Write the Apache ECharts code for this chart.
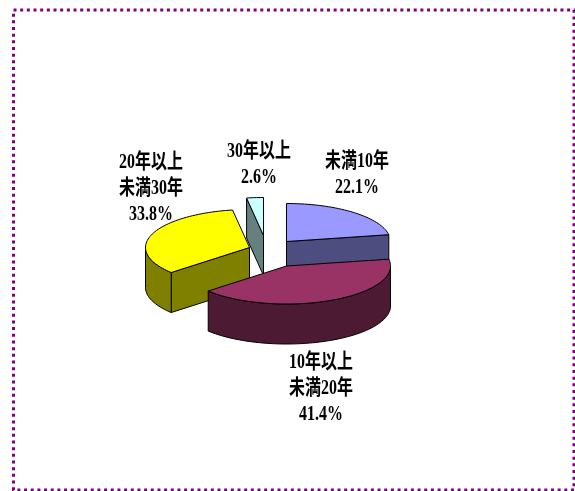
<!DOCTYPE html>
<html>
<head>
<meta charset="utf-8">
<style>html,body{margin:0;padding:0;background:#fff;overflow:hidden}#chart{width:575px;height:491px}</style>
<script src="https://cdn.jsdelivr.net/npm/echarts@6/dist/echarts.min.js"></script>
</head>
<body>
<div id="chart"></div>
<script>
// Share of each length-of-service band, clockwise from twelve o'clock
const categories = ['未満10年', '10年以上\n未満20年', '20年以上\n未満30年', '30年以上'];
const shares = [22.1, 41.4, 33.8, 2.6];

const topColors = ['#9999ff', '#993366', '#ffff00', '#ccffff'];
const wallColors = ['#4d4d80', '#4d1a33', '#808000', '#668080'];

// Pulled-apart slice centres and the anchor of each text block
const sliceCenters = [[286.5, 241.5], [286.5, 266], [249.5, 247.5], [263.5, 235.5]];
const labelCenters = [[357, 162], [321, 363], [151, 163], [259, 152]];
const RX = 104, RY = 38, DEPTH = 40, LINE_GAP = 26;
const drawOrder = [3, 2, 0, 1];

const total = shares.reduce((a, b) => a + b, 0);
const rad = d => d * Math.PI / 180;

function sliceAngles(i) {
  const before = shares.slice(0, i).reduce((a, b) => a + b, 0);
  return [before / total * 360, (before + shares[i]) / total * 360];
}
function rim(c, deg, drop) {
  return [c[0] + RX * Math.sin(rad(deg)), c[1] - RY * Math.cos(rad(deg)) + drop];
}
function arc(c, from, to, drop) {
  const pts = [], n = Math.max(2, Math.ceil(Math.abs(to - from) / 2));
  for (let k = 0; k <= n; k++) pts.push(rim(c, from + (to - from) * k / n, drop));
  return pts;
}
function face(points, fill) {
  return {
    type: 'polygon',
    shape: { points },
    style: { fill, stroke: '#000', lineWidth: 1, lineJoin: 'round' }
  };
}

// One extruded slice: visible cut faces, then front rim, then the top
function renderSlice(params, api) {
  const i = params.dataIndex;
  const c = sliceCenters[i];
  const [a0, a1] = sliceAngles(i);
  const children = [];

  if (-Math.cos(rad(a0 - 90)) > 0) {
    const e = rim(c, a0, 0);
    children.push(face([c, e, [e[0], e[1] + DEPTH], [c[0], c[1] + DEPTH]], wallColors[i]));
  }
  if (-Math.cos(rad(a1 + 90)) > 0) {
    const e = rim(c, a1, 0);
    children.push(face([c, e, [e[0], e[1] + DEPTH], [c[0], c[1] + DEPTH]], wallColors[i]));
  }
  const f0 = Math.max(a0, 90), f1 = Math.min(a1, 270);
  if (f1 > f0) {
    children.push(face(arc(c, f0, f1, 0).concat(arc(c, f1, f0, DEPTH)), wallColors[i]));
  }
  children.push(face([c].concat(arc(c, a0, a1, 0)), topColors[i]));
  return { type: 'group', children };
}

// Category lines followed by the percentage, centred on the anchor
function renderLabel(params, api) {
  const i = params.dataIndex;
  const a = labelCenters[i];
  const lines = categories[i].split('\n').concat(api.value(0).toFixed(1) + '%');
  return {
    type: 'group',
    children: lines.map((text, k) => ({
      type: 'text',
      x: a[0],
      y: a[1] + k * LINE_GAP,
      scaleX: 0.76,
      style: {
        text,
        fill: '#000',
        font: 'bold 21px "Liberation Serif","Noto Sans CJK JP",serif',
        align: 'center',
        verticalAlign: 'middle'
      }
    }))
  };
}

const chart = echarts.init(document.getElementById('chart'), null, { renderer: 'canvas' });
chart.setOption({
  animation: false,
  backgroundColor: '#fff',
  graphic: [{
    type: 'rect',
    shape: { x: 13.5, y: 10, width: 560.5, height: 480 },
    style: { fill: 'none', stroke: '#800080', lineWidth: 3, lineDash: [3, 3.67] },
    silent: true
  }],
  series: drawOrder.map(i => ({
    type: 'custom',
    coordinateSystem: 'none',
    silent: true,
    z: 2,
    data: shares.map(v => [v]),
    renderItem: (params, api) => params.dataIndex === i ? renderSlice(params, api) : null
  })).concat([{
    type: 'custom',
    coordinateSystem: 'none',
    silent: true,
    z: 3,
    data: shares.map(v => [v]),
    renderItem: renderLabel
  }])
});
</script>
</body>
</html>
